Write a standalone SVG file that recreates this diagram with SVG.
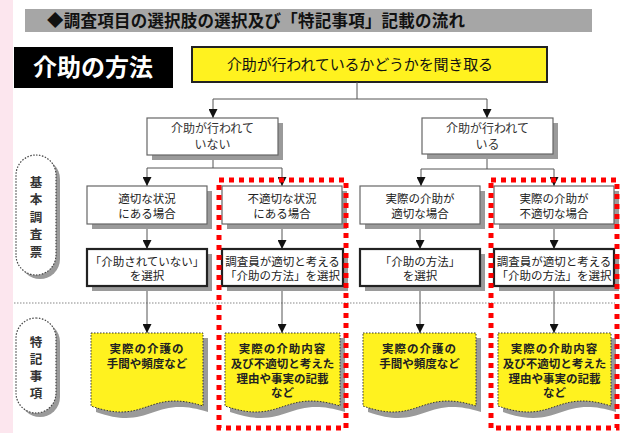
<svg xmlns="http://www.w3.org/2000/svg" width="623" height="433" viewBox="0 0 623 433">
<defs>
<marker id="ah" viewBox="0 0 10 10" refX="10" refY="5" markerWidth="9" markerHeight="9" markerUnits="userSpaceOnUse" orient="auto">
<path d="M0,0 L10,5 L0,10 z" fill="#111"/>
</marker>
<style>
text{font-family:"Noto Sans CJK JP","Noto Sans CJK SC",sans-serif;}
.t{font-size:12px;fill:#333;text-anchor:middle;}
.s{font-size:11.5px;fill:#222;text-anchor:middle;}
.d{font-size:11.5px;fill:#222;text-anchor:middle;font-weight:bold;}
.lab{font-size:12.5px;fill:#333;text-anchor:middle;font-weight:bold;}
.sh{fill:#9a9a9a;}
.box{fill:#fff;stroke:#666;stroke-width:1.2;}
.box2{fill:#fff;stroke:#222;stroke-width:2.2;}
.doc{fill:#fff21f;stroke:#333;stroke-width:1;stroke-dasharray:1.5 1.5;}
.pill{fill:#fff;stroke:#444;stroke-width:1.2;stroke-dasharray:1.5 1.5;}
.red{fill:none;stroke:#ff0000;stroke-width:5;stroke-dasharray:5 5;}
.c{fill:none;stroke:#555;stroke-width:1;}
</style>
</defs>
<rect x="0" y="0" width="623" height="433" fill="#fff"/>
<rect x="0" y="0" width="13" height="433" fill="#fce6ee"/>

<g id="title">
<rect x="25" y="9" width="567" height="23" fill="#a6a6a6"/>
<text x="47" y="26.5" font-size="16.5" fill="#111" font-weight="bold" textLength="418">◆調査項目の選択肢の選択及び「特記事項」記載の流れ</text>
</g>

<g id="heading">
<rect x="14" y="47" width="159" height="41" fill="#000"/>
<text x="93" y="76" font-size="24" fill="#fff" font-weight="bold" text-anchor="middle">介助の方法</text>
</g>

<g id="top">
<rect x="192" y="47" width="355" height="35" fill="#fff21f" stroke="#222" stroke-width="2"/>
<text x="360" y="70" font-size="15" fill="#111" text-anchor="middle" textLength="266">介助が行われているかどうかを聞き取る</text>
</g>

<g id="label-kihon">
<rect x="20" y="159" width="40" height="120" rx="20" class="sh"/>
<rect x="16" y="155" width="40" height="120" rx="20" class="pill"/>
<text class="lab" x="36" y="186.5">基<tspan x="36" dy="17.5">本</tspan><tspan x="36" dy="17.5">調</tspan><tspan x="36" dy="17.5">査</tspan><tspan x="36" dy="17.5">票</tspan></text>
</g>

<g id="label-tokki">
<rect x="20" y="322" width="40" height="95" rx="20" class="sh"/>
<rect x="16" y="318" width="40" height="95" rx="20" class="pill"/>
<text class="lab" x="36" y="346.5">特<tspan x="36" dy="17.3">記</tspan><tspan x="36" dy="17.3">事</tspan><tspan x="36" dy="17.3">項</tspan></text>
</g>

<line x1="14" y1="303" x2="615" y2="303" stroke="#888" stroke-width="1.2" stroke-dasharray="1.5 1.5"/>

<g id="connectors">
<path class="c" d="M357,82 V99"/>
<path class="c" d="M213,99 H487"/>
<path class="c" d="M213,99 V118" marker-end="url(#ah)"/>
<path class="c" d="M487,99 V118" marker-end="url(#ah)"/>
<path class="c" d="M213,155 V168 M147,168 H282"/>
<path class="c" d="M147,168 V186" marker-end="url(#ah)"/>
<path class="c" d="M282,168 V186" marker-end="url(#ah)"/>
<path class="c" d="M487,154 V169 M421,169 H554"/>
<path class="c" d="M421,169 V186" marker-end="url(#ah)"/>
<path class="c" d="M554,169 V186" marker-end="url(#ah)"/>
<path class="c" d="M147,224 V249" marker-end="url(#ah)"/>
<path class="c" d="M282,224 V249" marker-end="url(#ah)"/>
<path class="c" d="M420,224 V249" marker-end="url(#ah)"/>
<path class="c" d="M554,224 V249" marker-end="url(#ah)"/>
<path class="c" d="M147,287 V333" marker-end="url(#ah)"/>
<path class="c" d="M282,287 V333" marker-end="url(#ah)"/>
<path class="c" d="M420,287 V333" marker-end="url(#ah)"/>
<path class="c" d="M554,287 V333" marker-end="url(#ah)"/>
</g>

<g id="n-nashi">
<rect x="152" y="123" width="131" height="37" class="sh"/>
<rect x="147" y="118" width="131" height="37" class="box"/>
<text class="t" x="212.5" y="133">介助が行われて<tspan x="212.5" dy="15.5">いない</tspan></text>
</g>
<g id="n-ari">
<rect x="427" y="123" width="131" height="36" class="sh"/>
<rect x="422" y="118" width="131" height="36" class="box"/>
<text class="t" x="487.5" y="133">介助が行われて<tspan x="487.5" dy="15.5">いる</tspan></text>
</g>

<g id="n-a2">
<rect x="92" y="191" width="120" height="38" class="sh"/>
<rect x="87" y="186" width="120" height="38" class="box"/>
<text class="s" x="147" y="203">適切な状況<tspan x="147" dy="14.8">にある場合</tspan></text>
</g>
<g id="n-b2">
<rect x="227" y="191" width="120" height="38" class="sh"/>
<rect x="222" y="186" width="120" height="38" class="box"/>
<text class="s" x="282" y="203">不適切な状況<tspan x="282" dy="14.8">にある場合</tspan></text>
</g>
<g id="n-c2">
<rect x="365" y="191" width="120" height="38" class="sh"/>
<rect x="360" y="186" width="120" height="38" class="box"/>
<text class="s" x="420" y="203">実際の介助が<tspan x="420" dy="14.8">適切な場合</tspan></text>
</g>
<g id="n-d2">
<rect x="499" y="191" width="120" height="38" class="sh"/>
<rect x="494" y="186" width="120" height="38" class="box"/>
<text class="s" x="554" y="203">実際の介助が<tspan x="554" dy="14.8">不適切な場合</tspan></text>
</g>

<g id="n-a3">
<rect x="92" y="254" width="120" height="37" class="sh"/>
<rect x="87" y="249" width="120" height="37" class="box2"/>
<text class="s" x="147" y="265.5">「介助されていない」<tspan x="147" dy="14.8">を選択</tspan></text>
</g>
<g id="n-b3">
<rect x="227" y="254" width="121" height="37" class="sh"/>
<rect x="222" y="249" width="121" height="37" class="box2"/>
<text class="s" x="282.5" y="265.5">調査員が適切と考える<tspan x="282.5" dy="14.8">「介助の方法」を選択</tspan></text>
</g>
<g id="n-c3">
<rect x="365" y="254" width="120" height="37" class="sh"/>
<rect x="360" y="249" width="120" height="37" class="box2"/>
<text class="s" x="420" y="265.5">「介助の方法」<tspan x="420" dy="14.8">を選択</tspan></text>
</g>
<g id="n-d3">
<rect x="499" y="254" width="120" height="37" class="sh"/>
<rect x="494" y="249" width="120" height="37" class="box2"/>
<text class="s" x="554" y="265.5">調査員が適切と考える<tspan x="554" dy="14.8">「介助の方法」を選択</tspan></text>
</g>

<g id="n-a4">
<path class="sh" d="M96,338 H208 V412 C152,394 152,432 96,412 Z"/>
<path class="doc" d="M91,333 H203 V406 C147,388 147,426 91,406 Z"/>
<text class="d" x="147" y="353"><tspan letter-spacing="1">実際の介護の</tspan><tspan x="147" dy="15">手間や頻度など</tspan></text>
</g>
<g id="n-b4">
<path class="sh" d="M230,338 H345 V412 C287.5,394 287.5,432 230,412 Z"/>
<path class="doc" d="M225,333 H340 V406 C282.5,388 282.5,426 225,406 Z"/>
<text class="d" x="282.5" y="353"><tspan letter-spacing="1">実際の介助内容</tspan><tspan x="282.5" dy="14.8">及び不適切と考えた</tspan><tspan x="282.5" dy="14.8">理由や事実の記載</tspan><tspan x="282.5" dy="14.8">など</tspan></text>
</g>
<g id="n-c4">
<path class="sh" d="M368,338 H481 V412 C424.5,394 424.5,432 368,412 Z"/>
<path class="doc" d="M363,333 H476 V406 C419.5,388 419.5,426 363,406 Z"/>
<text class="d" x="419.5" y="353"><tspan letter-spacing="1">実際の介護の</tspan><tspan x="419.5" dy="15">手間や頻度など</tspan></text>
</g>
<g id="n-d4">
<path class="sh" d="M503,338 H616 V412 C559.5,394 559.5,432 503,412 Z"/>
<path class="doc" d="M498,333 H611 V406 C554.5,388 554.5,426 498,406 Z"/>
<text class="d" x="554.5" y="353"><tspan letter-spacing="1">実際の介助内容</tspan><tspan x="554.5" dy="14.8">及び不適切と考えた</tspan><tspan x="554.5" dy="14.8">理由や事実の記載</tspan><tspan x="554.5" dy="14.8">など</tspan></text>
</g>

<g id="highlight">
<rect class="red" x="219" y="180" width="127" height="248"/>
<rect class="red" x="491" y="180" width="126" height="248"/>
</g>
</svg>
